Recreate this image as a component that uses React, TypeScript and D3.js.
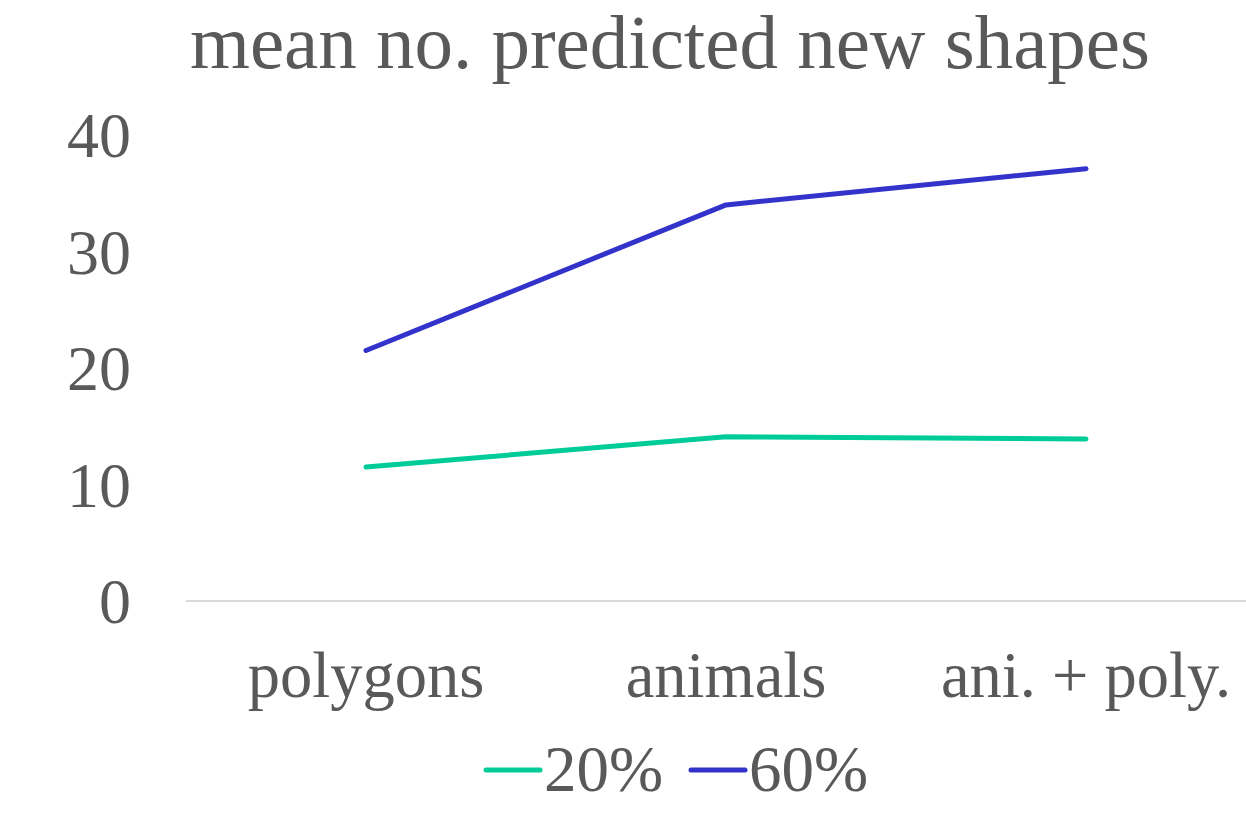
import React from "react";
import * as d3 from "d3";

const categories = ["polygons", "animals", "ani. + poly."];
const seriesNames = ["20%", "60%"];
const values20 = [11.5, 14.1, 13.9];
const values60 = [21.5, 34.0, 37.1];
const yTicks = [0, 10, 20, 30, 40];
const colors = ["#00CC99", "#3333CC"];

const W = 1246;
const H = 813;
const FONT = "'Liberation Serif', 'Times New Roman', serif";
const TEXT = "#595959";

export default function App() {
  const x = d3.scaleBand<string>().domain(categories).range([186, 1266]);
  const y = d3.scaleLinear().domain([0, 40]).range([601, 135]);
  const line = d3
    .line<number>()
    .x((_, i) => (x(categories[i]) as number) + x.bandwidth() / 2)
    .y((d) => y(d));
  const series = [values20, values60];

  const legendItems = [
    { name: seriesNames[0], color: colors[0], x0: 486 },
    { name: seriesNames[1], color: colors[1], x0: 691 },
  ];

  return (
    <svg
      width={W}
      height={H}
      style={{ position: "absolute", left: 0, top: 0, background: "#fff" }}
      fontFamily={FONT}
    >
      <rect width={W} height={H} fill="#fff" />
      <text x={670} y={68} textAnchor="middle" fontSize={77} fill={TEXT}>
        mean no. predicted new shapes
      </text>
      <line x1={186} x2={W} y1={y(0)} y2={y(0)} stroke="#D9D9D9" strokeWidth={2} />
      {yTicks.map((t) => (
        <text key={t} x={131} y={y(t)} dy="0.35em" textAnchor="end" fontSize={64} fill={TEXT}>
          {t}
        </text>
      ))}
      {categories.map((c) => (
        <text
          key={c}
          x={(x(c) as number) + x.bandwidth() / 2}
          y={697}
          textAnchor="middle"
          fontSize={64.5}
          fill={TEXT}
        >
          {c}
        </text>
      ))}
      {series.map((s, i) => (
        <path
          key={i}
          d={line(s) as string}
          fill="none"
          stroke={colors[i]}
          strokeWidth={5}
          strokeLinecap="round"
          strokeLinejoin="round"
        />
      ))}
      {legendItems.map((l) => (
        <g key={l.name}>
          <line x1={l.x0} x2={l.x0 + 54} y1={770} y2={770} stroke={l.color} strokeWidth={5} strokeLinecap="round" />
          <text x={l.x0 + 58} y={791} fontSize={65} fill={TEXT}>
            {l.name}
          </text>
        </g>
      ))}
    </svg>
  );
}
